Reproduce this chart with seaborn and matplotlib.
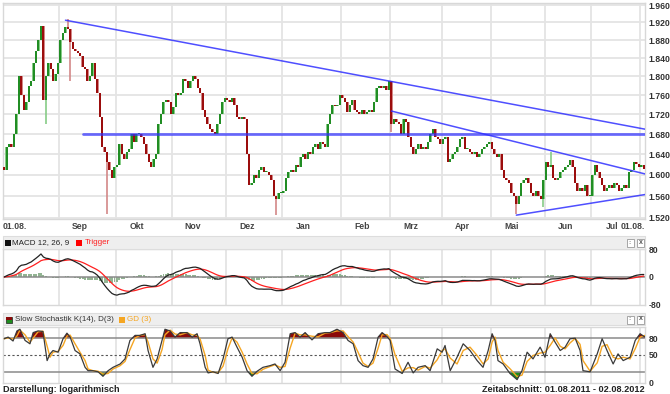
import numpy as np
import pandas as pd
import matplotlib
matplotlib.use("Agg")
import matplotlib.pyplot as plt
import matplotlib.transforms as mtransforms
from matplotlib.patches import Rectangle
from matplotlib.ticker import NullLocator
import seaborn as sns

# Schlusskurse je Monat
close_aug11 = [1.610, 1.655, 1.660, 1.655, 1.680, 1.720, 1.800, 1.760, 1.730, 1.745, 1.780, 1.790,
               1.830, 1.855, 1.880, 1.912, 1.750, 1.800, 1.830, 1.815, 1.790, 1.805, 1.830]
close_sep = [1.880, 1.895, 1.910, 1.905, 1.875, 1.860, 1.855, 1.850, 1.845, 1.820, 1.815, 1.790,
             1.800, 1.830, 1.795, 1.765, 1.715, 1.655, 1.645, 1.625, 1.610, 1.595, 1.615]
close_okt = [1.620, 1.660, 1.640, 1.630, 1.645, 1.650, 1.680, 1.665, 1.680, 1.680, 1.675, 1.660,
             1.640, 1.625, 1.615, 1.630, 1.640, 1.700, 1.720, 1.745, 1.750, 1.745, 1.720]
close_nov = [1.735, 1.765, 1.760, 1.765, 1.795, 1.790, 1.775, 1.790, 1.800, 1.795, 1.775, 1.765,
             1.730, 1.715, 1.700, 1.690, 1.685, 1.680, 1.700, 1.720, 1.745, 1.755]
close_dez = [1.750, 1.745, 1.755, 1.740, 1.715, 1.710, 1.715, 1.710, 1.640, 1.580, 1.585, 1.600,
             1.595, 1.610, 1.615, 1.605, 1.605, 1.600, 1.590, 1.560, 1.555, 1.565, 1.565]
close_jan = [1.570, 1.595, 1.605, 1.610, 1.605, 1.620, 1.615, 1.635, 1.640, 1.630, 1.645, 1.640,
             1.655, 1.660, 1.650, 1.665, 1.660, 1.655, 1.700, 1.720, 1.740, 1.738, 1.740, 1.760]
close_feb = [1.755, 1.745, 1.725, 1.740, 1.750, 1.730, 1.725, 1.720, 1.730, 1.720, 1.725, 1.730,
             1.725, 1.745, 1.775, 1.780, 1.775, 1.780, 1.770, 1.790]
close_mrz = [1.700, 1.710, 1.705, 1.700, 1.680, 1.710, 1.705, 1.675, 1.655, 1.640, 1.650, 1.660,
             1.650, 1.655, 1.650, 1.665, 1.680, 1.690, 1.675, 1.670, 1.660]
close_apr = [1.670, 1.675, 1.625, 1.630, 1.640, 1.645, 1.655, 1.670, 1.675, 1.650, 1.650, 1.645,
             1.640, 1.645, 1.635, 1.640, 1.650, 1.655, 1.660, 1.665]
close_mai = [1.650, 1.640, 1.635, 1.640, 1.610, 1.595, 1.590, 1.585, 1.565, 1.560, 1.545, 1.560,
             1.585, 1.590, 1.595, 1.585, 1.565, 1.560, 1.570, 1.560, 1.555, 1.590]
close_jun = [1.625, 1.615, 1.620, 1.595, 1.590, 1.595, 1.605, 1.610, 1.615, 1.620, 1.628, 1.615,
             1.585, 1.570, 1.575, 1.570, 1.580, 1.560, 1.560]
close_jul = [1.600, 1.620, 1.605, 1.595, 1.580, 1.570, 1.575, 1.580, 1.575, 1.585, 1.580, 1.570,
             1.575, 1.580, 1.575, 1.605, 1.610, 1.625, 1.622, 1.615]
close_aug12 = [1.620, 1.612]

month_closes = [close_aug11, close_sep, close_okt, close_nov, close_dez, close_jan, close_feb,
                close_mrz, close_apr, close_mai, close_jun, close_jul, close_aug12]
month_labels = ["", "Sep", "Okt", "Nov", "Dez", "Jan", "Feb", "Mrz", "Apr", "Mai", "Jun", "Jul", ""]

# lange Dochte (Index -> Kurs)
extra_low = {17: 1.700, 27: 1.790, 42: 1.528, 111: 1.525, 158: 1.685, 209: 1.528, 220: 1.540}
extra_high = {26: 1.928, 223: 1.645}

# Trendlinien
trend_x0 = [25, 32, 158, 209]
trend_y0 = [1.925, 1.680, 1.727, 1.525]
trend_x1 = [261.5, 261.5, 261.5, 261.5]
trend_y1 = [1.690, 1.680, 1.602, 1.563]

price_ticks = [1.52, 1.56, 1.60, 1.64, 1.68, 1.72, 1.76, 1.80, 1.84, 1.88, 1.92, 1.96]

# Slow Stochastik %K (Kerzenindex / Wert)
stoch_pos = [0, 1.6, 3.6, 5.2, 6.4, 8.5, 10.5, 11.8, 13.8, 15.8, 17.5, 18.7, 19.9, 22, 24, 25.6,
             26.9, 28.9, 30.9, 33, 34.2, 36.2, 38.3, 40.3, 42.4, 44.4, 47.3, 49.3, 51.3, 53.4,
             55.4, 57.5, 58.7, 60.7, 62.4, 64.4, 65.6, 67.7, 69.7, 71.8, 74.6, 76.7, 78.7, 79.9,
             82, 83.2, 85.2, 87.3, 89.3, 91.3, 93, 95, 97.1, 99.1, 101.1, 103.2, 105.6, 108.5,
             110.5, 112.6, 114.6, 116.7, 118.7, 120.7, 122.8, 125.6, 128.1, 130.9, 133, 135.8,
             138.3, 140.3, 142.4, 144.4, 146.4, 148.5, 150.5, 152.6, 154.2, 156.2, 157.5, 159.5,
             162.4, 164.8, 166.9, 168.9, 171.8, 173.8, 176.7, 178.7, 179.9, 182, 184.8, 187.3,
             190.1, 193, 195.4, 197.5, 199.1, 200.3, 201.5, 203.6, 206.4, 209.3, 211.3, 213.4,
             215.8, 218.7, 220.7, 222.8, 224.8, 226.9, 228.9, 230.9, 233, 235, 236.2, 239.1, 242,
             244, 246, 248.5, 250.5, 252.6, 255.4, 257.5, 259.5, 261.5]
stoch_k = [79, 82, 75, 93, 96, 76, 70, 90, 93, 92, 40, 52, 58, 55, 79, 89,
           82, 58, 52, 28, 22, 22, 20, 12, 22, 28, 34, 43, 76, 85,
           85, 88, 58, 28, 43, 76, 96, 93, 82, 90, 90, 82, 88, 70,
           28, 18, 20, 17, 43, 79, 82, 64, 46, 22, 12, 21, 28, 31,
           34, 22, 37, 88, 90, 82, 90, 77, 88, 90, 90, 96,
           90, 76, 70, 40, 31, 28, 43, 82, 90, 83, 76, 25,
           17, 37, 18, 28, 31, 22, 61, 55, 67, 22, 46, 70,
           58, 40, 28, 58, 88, 76, 40, 34, 17, 6, 22, 55,
           43, 64, 46, 88, 73, 58, 64, 79, 80, 58, 22, 20, 52,
           79, 58, 34, 52, 40, 46, 76, 88, 82]

# ---------- Daten aufbereiten ----------
close = np.array([c for m in month_closes for c in m])
n = len(close)
idx = np.arange(n)
opn = np.r_[close[0] + 0.005, close[:-1]]
high = np.maximum(opn, close)
low = np.minimum(opn, close)
for k, v in extra_low.items():
    low[k] = min(low[k], v)
for k, v in extra_high.items():
    high[k] = max(high[k], v)
month_start = np.cumsum([0] + [len(m) for m in month_closes])[:-1]

df = pd.DataFrame({"i": idx, "close": close})
ema12 = df["close"].ewm(span=12, adjust=False).mean()
ema26 = df["close"].ewm(span=26, adjust=False).mean()
df["macd"] = (ema12 - ema26) * 1000
df["trigger"] = df["macd"].ewm(span=9, adjust=False).mean()
df["hist"] = (df["macd"] - df["trigger"]) * 0.6

st = pd.DataFrame({"i": stoch_pos, "k": stoch_k})
st["d"] = st["k"].rolling(2, min_periods=1).mean()

# ---------- Figur ----------
sns.set_style("white")
plt.rcParams["font.family"] = ["Liberation Sans", "DejaVu Sans"]
W, H = 670, 394
fig = plt.figure(figsize=(6.7, 3.94), dpi=100)
fig.patch.set_facecolor("white")


def box(x0, y0, x1, y1):
    return [x0 / W, 1 - y1 / H, (x1 - x0) / W, (y1 - y0) / H]


ax = fig.add_axes(box(3, 3, 645, 219))
ax2 = fig.add_axes(box(3, 249, 645, 305))
ax3 = fig.add_axes(box(3, 327, 645, 383))

grid_c = "#e4e4e4"
txt_c = "#333333"
fs = 6.2

for a in (ax, ax2, ax3):
    a.set_xlim(-0.5, n - 0.5)
    a.set_xticks(month_start[1:] - 0.5)
    a.set_xticklabels([])
    a.tick_params(axis="x", length=0)
    a.grid(True, axis="x", color=grid_c, lw=1.3)
    a.yaxis.tick_right()
    a.tick_params(axis="y", length=0, pad=2.5)
    for s in a.spines.values():
        s.set_color("#d8d8d8")
        s.set_linewidth(1)
    a.set_axisbelow(True)

# Kerzen
up = close >= opn
light = np.where(up, "#86cc86", "#d38787")
dark = np.where(up, "#17871a", "#960000")
body_low = np.minimum(opn, close)
body_h = np.maximum(np.abs(close - opn), 0.002)
ax.bar(idx, body_h, bottom=body_low, width=1.0, color=light, linewidth=0, zorder=2)
ax.vlines(idx, low, high, colors=light, lw=1.2, zorder=2)
ax.vlines(idx - 0.05, body_low, body_low + body_h, colors=dark, lw=1.3, zorder=3)

for x0, y0, x1, y1 in zip(trend_x0, trend_y0, trend_x1, trend_y1):
    flat = y0 == y1
    ax.plot([x0, x1], [y0, y1], color="#3030ff", lw=2.0 if flat else 1.1,
            alpha=0.7 if flat else 0.85, zorder=4)

ax.set_yscale("log")
ax.set_ylim(1.518, 1.965)
ax.yaxis.set_minor_locator(NullLocator())
ax.set_yticks(price_ticks)
ax.set_yticklabels([f"{t:.3f}" for t in price_ticks], fontsize=fs, fontweight="bold", color=txt_c)
ax.grid(True, axis="y", color=grid_c, lw=1.3)

# Monatsbeschriftung
trans = mtransforms.blended_transform_factory(ax.transData, ax.transAxes)
for s, lab in zip(month_start, month_labels):
    if lab:
        ax.text(s + 8, -0.012, lab, transform=trans, ha="center", va="top",
                fontsize=fs, fontweight="bold", color="#444444")
ax.text(-0.5, -0.012, "01.08.", transform=trans, ha="left", va="top",
        fontsize=fs, fontweight="bold", color="#444444")
ax.text(n - 0.5, -0.012, "01.08.", transform=trans, ha="right", va="top",
        fontsize=fs, fontweight="bold", color="#444444")

# MACD
ax2.bar(df["i"], df["hist"], width=0.8, color="#7fa77f", alpha=0.85, linewidth=0, zorder=2)
ax2.axhline(0, color="#8a8a8a", lw=1.1, zorder=2)
sns.lineplot(x=df["i"], y=df["macd"], ax=ax2, color="#222222", lw=0.9, zorder=4)
sns.lineplot(x=df["i"], y=df["trigger"], ax=ax2, color="#ff2020", lw=0.9, zorder=3)
ax2.set_ylim(-80, 80)
ax2.set_yticks([80, 0, -80])
ax2.set_yticklabels(["80", "0", "-80"], fontsize=fs, fontweight="bold", color=txt_c)
ax2.set_xlabel("")
ax2.set_ylabel("")

# Slow Stochastik
sx = st["i"].values
sk = st["k"].values.astype(float)
ax3.fill_between(sx, sk, 80, where=sk > 80, interpolate=True, color="#8b0a0a", lw=0, zorder=2)
ax3.fill_between(sx, sk, 20, where=sk < 20, interpolate=True, color="#1e8c1e", lw=0, zorder=2)
ax3.axhline(80, color="#8a8a8a", lw=1.1, zorder=2)
ax3.axhline(20, color="#8a8a8a", lw=1.1, zorder=2)
ax3.axhline(50, color="#555555", lw=0.8, ls=(0, (2, 2)), zorder=2)
sns.lineplot(x=st["i"], y=st["d"], ax=ax3, color="#f5a623", lw=1.0, zorder=3)
sns.lineplot(x=st["i"], y=st["k"], ax=ax3, color="#3a3a3a", lw=0.9, zorder=4)
ax3.set_ylim(0, 100)
ax3.set_yticks([80, 50, 0])
ax3.set_yticklabels(["80", "50", "0"], fontsize=fs, fontweight="bold", color=txt_c)
ax3.set_xlabel("")
ax3.set_ylabel("")


# Kopfleisten der Indikatoren
def rect(x0, y0, w, h, fc, ec="none", lw=0.6):
    fig.add_artist(Rectangle((x0 / W, 1 - (y0 + h) / H), w / W, h / H,
                             transform=fig.transFigure, facecolor=fc, edgecolor=ec, lw=lw))


def header(y0, y1):
    rect(3, y0, 642, y1 - y0, "#eeeeee", "#dddddd", 0.8)
    ym = 1 - (y0 + y1) / 2 / H
    for x in (627, 637):
        rect(x, y0 + 2.5, 7, 8, "white", "#999999")
    fig.text(630.5 / W, ym, "::", fontsize=4.5, ha="center", va="center", color="#555555")
    fig.text(640.5 / W, ym, "x", fontsize=5, ha="center", va="center",
             color="#555555", fontweight="bold")


header(236, 249)
header(313, 325)

hfs = 5.8
yt = 1 - 243 / H
rect(5, 240, 6, 6, "#111111")
fig.text(12 / W, yt, "MACD 12, 26, 9", fontsize=hfs, color="#222222", va="center")
rect(76, 240, 6, 6, "#ff0000")
fig.text(85 / W, yt, "Trigger", fontsize=hfs, color="#ff2020", va="center")

ys = 1 - 319.5 / H
rect(6, 316.5, 6, 6, "#1e8c1e", "#222222", 0.5)
rect(6, 316.5, 6, 3.5, "#8b0a0a")
fig.text(15 / W, ys, "Slow Stochastik K(14), D(3)", fontsize=hfs, color="#333333", va="center")
rect(119, 316.5, 6, 6, "#f5a623")
fig.text(127 / W, ys, "GD (3)", fontsize=hfs, color="#f5a623", va="center")

fig.text(3 / W, 1 - 389 / H, "Darstellung: logarithmisch", fontsize=6.6, fontweight="bold",
         color="#222222", va="center")
fig.text(645 / W, 1 - 389 / H, "Zeitabschnitt: 01.08.2011 - 02.08.2012", fontsize=6.6,
         fontweight="bold", color="#222222", va="center", ha="right")

fig.savefig("out.png", dpi=100)
